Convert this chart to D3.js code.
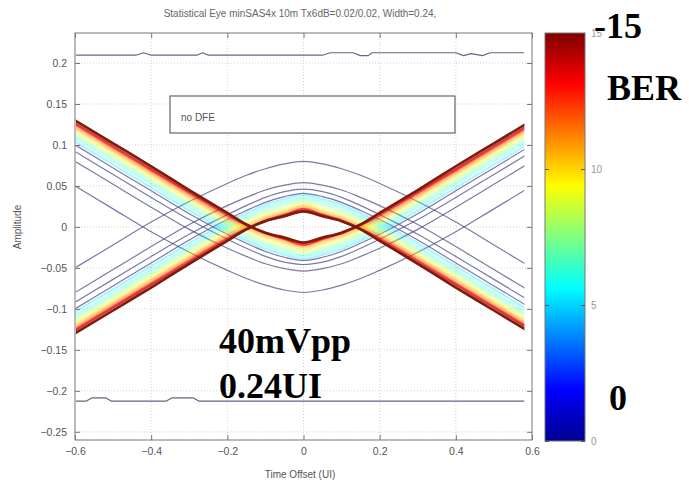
<!DOCTYPE html>
<html>
<head>
<meta charset="utf-8">
<script src="https://cdn.jsdelivr.net/npm/d3@7"></script>
<style>
  body { margin: 0; background: #fff; }
  svg { display: block; }
  text { font-family: Arial, "Liberation Sans", sans-serif; }
</style>
</head>
<body>
<svg id="chart" width="689" height="484"></svg>
<script>
// axis ticks
const xTicks = [-0.6, -0.4, -0.2, 0, 0.2, 0.4, 0.6];
const yTicks = [0.2, 0.15, 0.1, 0.05, 0, -0.05, -0.1, -0.15, -0.2, -0.25];
const berTicks = [0, 5, 10, 15];

// contour half profile (left half, mirrored about x=0), lower-crossing curve
const halfX = [-0.6, -0.5, -0.4, -0.3, -0.2, -0.15, -0.1, -0.05, 0];
const contourLevels = [1, 1.5, 2, 2.5, 5, 6, 7, 8, 9, 10, 11, 12, 13, 14, 15];
const contourY = [
  [-0.050, -0.022, 0.006, 0.031, 0.053, 0.063, 0.071, 0.077, 0.080],
  [-0.080, -0.052, -0.024, 0.003, 0.026, 0.036, 0.045, 0.051, 0.054],
  [-0.092, -0.064, -0.036, -0.009, 0.015, 0.026, 0.036, 0.043, 0.046],
  [-0.100, -0.072, -0.044, -0.016, 0.009, 0.020, 0.030, 0.037, 0.041],
  [-0.104, -0.076, -0.048, -0.020, 0.006, 0.017, 0.027, 0.034, 0.039],
  [-0.108, -0.080, -0.052, -0.024, 0.003, 0.014, 0.024, 0.031, 0.036],
  [-0.111, -0.083, -0.055, -0.027, 0.000, 0.011, 0.021, 0.028, 0.034],
  [-0.114, -0.086, -0.058, -0.030, -0.003, 0.008, 0.018, 0.025, 0.031],
  [-0.117, -0.089, -0.061, -0.033, -0.006, 0.005, 0.015, 0.022, 0.029],
  [-0.119, -0.091, -0.063, -0.035, -0.008, 0.003, 0.013, 0.020, 0.027],
  [-0.121, -0.093, -0.065, -0.037, -0.010, 0.001, 0.011, 0.018, 0.025],
  [-0.123, -0.095, -0.067, -0.039, -0.012, -0.001, 0.009, 0.016, 0.023],
  [-0.125, -0.097, -0.069, -0.041, -0.014, -0.002, 0.008, 0.015, 0.022],
  [-0.127, -0.099, -0.071, -0.043, -0.016, -0.003, 0.007, 0.014, 0.020],
  [-0.130, -0.102, -0.074, -0.045, -0.017, -0.003, 0.007, 0.013, 0.019]
];

// outer rails (top and bottom)
const topRailX = [-0.6, -0.44, -0.42, -0.40, -0.28, -0.265, -0.25, 0.05, 0.07, 0.13, 0.15, 0.17, 0.18, 0.40, 0.42, 0.44, 0.47, 0.49, 0.58];
const topRailY = [0.2095, 0.2095, 0.2125, 0.2095, 0.2095, 0.2125, 0.2095, 0.2095, 0.2125, 0.2125, 0.209, 0.209, 0.2125, 0.2125, 0.209, 0.2115, 0.209, 0.2125, 0.2125];
const botRailX = [-0.6, -0.57, -0.555, -0.52, -0.505, -0.36, -0.345, -0.29, -0.275, 0.58];
const botRailY = [-0.2125, -0.2125, -0.2085, -0.2085, -0.2125, -0.2125, -0.2085, -0.2085, -0.2125, -0.2125];

const jetStops = [0, 0.125, 0.375, 0.625, 0.875, 1];
const jetColors = ['#00008f', '#0000ff', '#00ffff', '#ffff00', '#ff0000', '#800000'];

const svg = d3.select('#chart');
const plot = { left: 75, right: 532, top: 33, bottom: 440 };
const x = d3.scaleLinear().domain([-0.6, 0.6]).range([plot.left, plot.right]);
const y = d3.scaleLinear().domain([-0.26, 0.2366]).range([plot.bottom, plot.top]);
const jet = d3.scaleLinear().domain(jetStops.map(s => s * 15)).range(jetColors);

// title
svg.append('text').attr('x', 300).attr('y', 17).attr('text-anchor', 'middle')
  .attr('font-size', 10).attr('fill', '#666')
  .text('Statistical Eye minSAS4x 10m Tx6dB=0.02/0.02, Width=0.24,');

// grid
const grid = svg.append('g').attr('stroke', '#c8c8c8').attr('stroke-dasharray', '1,2').attr('stroke-width', 0.8);
grid.selectAll('line.gx').data(xTicks.slice(1, -1)).enter().append('line')
  .attr('x1', d => x(d)).attr('x2', d => x(d)).attr('y1', plot.top).attr('y2', plot.bottom);
grid.selectAll('line.gy').data(yTicks).enter().append('line')
  .attr('y1', d => y(d)).attr('y2', d => y(d)).attr('x1', plot.left).attr('x2', plot.right);

// clip
svg.append('clipPath').attr('id', 'clip').append('rect')
  .attr('x', plot.left + 1).attr('y', plot.top).attr('width', x(0.58) - plot.left - 1).attr('height', plot.bottom - plot.top);

const line = d3.line().x(d => x(d[0])).y(d => y(d[1])).curve(d3.curveMonotoneX);
const lines = svg.append('g').attr('clip-path', 'url(#clip)').attr('fill', 'none')
  .attr('stroke-linejoin', 'round');

// rails
const railPts = (xs, ys) => xs.map((v, i) => [v, ys[i]]);
const rail = d3.line().x(d => x(d[0])).y(d => y(d[1]));
lines.append('path').attr('d', rail(railPts(topRailX, topRailY)))
  .attr('stroke', '#4a4a70').attr('stroke-width', 1.2).attr('stroke-opacity', 0.85);
lines.append('path').attr('d', rail(railPts(botRailX, botRailY)))
  .attr('stroke', '#4a4a70').attr('stroke-width', 1.2).attr('stroke-opacity', 0.85);

// contours: each level gives two curves (mirrored in amplitude)
contourLevels.forEach((lev, i) => {
  const half = halfX.map((v, j) => [v, contourY[i][j]]);
  const full = half.concat(half.slice(0, -1).reverse().map(p => [-p[0], p[1]]));
  const col = jet(lev);
  let w, op, stroke = col;
  if (lev < 5) { w = 1.2; op = 0.75; stroke = '#4e4e88'; }
  else if (lev < 9) { w = 2.2; op = 0.3; }
  else if (lev < 13) { w = 1.6; op = 0.45; }
  else if (lev < 15) { w = 1.8; op = 0.75; }
  else { w = 2.6; op = 1; stroke = '#7a1e0c'; }
  [1, -1].forEach(s => {
    lines.append('path')
      .attr('d', line(full.map(p => [p[0], s * p[1]])))
      .attr('stroke', stroke)
      .attr('stroke-width', w).attr('stroke-opacity', op);
  });
});

// axes frame and ticks
const frame = svg.append('g');
frame.append('rect').attr('x', plot.left).attr('y', plot.top)
  .attr('width', plot.right - plot.left).attr('height', plot.bottom - plot.top)
  .attr('fill', 'none').attr('stroke', '#777').attr('stroke-width', 1);

const axB = d3.axisBottom(x).tickValues(xTicks).tickSizeInner(-5).tickSizeOuter(0).tickPadding(8)
  .tickFormat(d => d3.format('')(d));
const axL = d3.axisLeft(y).tickValues(yTicks).tickSizeInner(-5).tickSizeOuter(0).tickPadding(8)
  .tickFormat(d => d3.format('')(d));
const axT = d3.axisTop(x).tickValues(xTicks).tickSizeInner(-5).tickSizeOuter(0).tickFormat('');
const axR = d3.axisRight(y).tickValues(yTicks).tickSizeInner(-5).tickSizeOuter(0).tickFormat('');

[[axB, `translate(0,${plot.bottom})`], [axL, `translate(${plot.left},0)`],
 [axT, `translate(0,${plot.top})`], [axR, `translate(${plot.right},0)`]].forEach(([ax, tr]) => {
  const g = svg.append('g').attr('transform', tr).call(ax);
  g.select('.domain').remove();
  g.selectAll('line').attr('stroke', '#777');
  g.selectAll('text').attr('fill', '#555').attr('font-size', 10.5)
    .style('font-family', 'Arial, "Liberation Sans", sans-serif');
});

// axis labels
svg.append('text').attr('transform', `translate(21,227) rotate(-90)`).attr('text-anchor', 'middle')
  .attr('font-size', 10).attr('fill', '#555').text('Amplitude');
svg.append('text').attr('x', 300).attr('y', 478).attr('text-anchor', 'middle')
  .attr('font-size', 10).attr('fill', '#555').text('Time Offset (UI)');

// legend box
svg.append('rect').attr('x', 170).attr('y', 96).attr('width', 285).attr('height', 37)
  .attr('fill', '#fff').attr('stroke', '#666').attr('stroke-width', 1.2);
svg.append('text').attr('x', 181).attr('y', 121).attr('font-size', 10).attr('fill', '#555').text('no DFE');

// colorbar
const cb = { x: 545, w: 40 };
const yc = d3.scaleLinear().domain([0, 15]).range([441, 33]);
const grad = svg.append('defs').append('linearGradient').attr('id', 'jet')
  .attr('x1', 0).attr('y1', 1).attr('x2', 0).attr('y2', 0);
grad.selectAll('stop').data(jetStops).enter().append('stop')
  .attr('offset', d => d).attr('stop-color', (d, i) => jetColors[i]);
svg.append('rect').attr('x', cb.x).attr('y', yc(15)).attr('width', cb.w).attr('height', yc(0) - yc(15))
  .attr('fill', 'url(#jet)').attr('stroke', '#777');
const axC = d3.axisRight(yc).tickValues(berTicks).tickSizeInner(-4).tickSizeOuter(0).tickPadding(6);
const gc = svg.append('g').attr('transform', `translate(${cb.x + cb.w},0)`).call(axC);
gc.select('.domain').remove();
gc.selectAll('line').attr('stroke', '#555');
gc.selectAll('text').attr('fill', '#999').attr('font-size', 10);
svg.append('g').attr('transform', `translate(${cb.x},0)`)
  .call(d3.axisLeft(yc).tickValues(berTicks).tickSizeInner(-4).tickSizeOuter(0).tickFormat(''))
  .call(g => g.select('.domain').remove())
  .selectAll('line').attr('stroke', '#555');

// annotations
const big = (t, px, py) => svg.append('text').attr('x', px).attr('y', py)
  .style('font-family', '"Liberation Serif", "Times New Roman", serif').style('font-weight', 'bold')
  .attr('font-size', 36).attr('fill', '#000').text(t);
big('-15', 594, 38);
big('BER', 607, 100);
big('0', 609, 410);
big('40mVpp', 219, 353);
big('0.24UI', 219, 398);
</script>
</body>
</html>
